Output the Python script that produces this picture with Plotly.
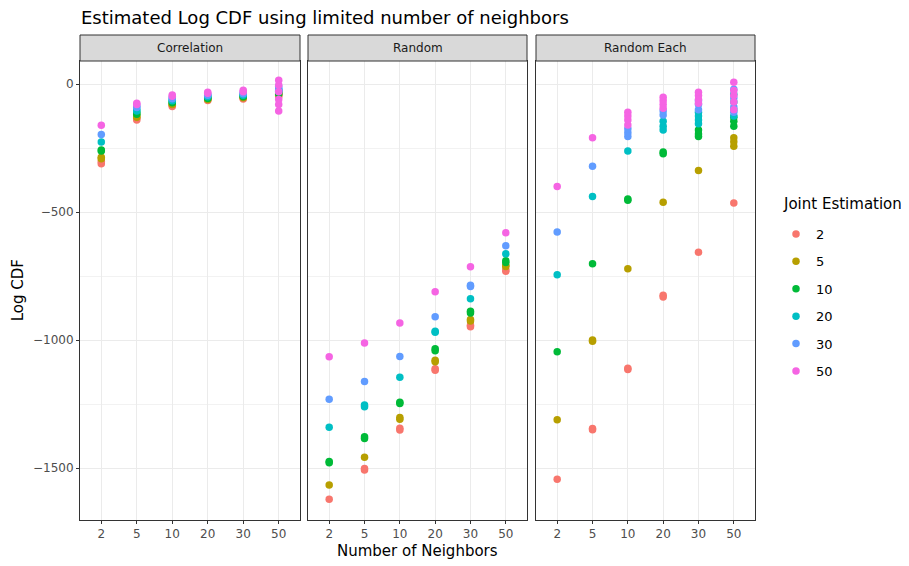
import plotly.graph_objects as go

# the page body adds an 8px margin, so the figure is drawn 8px smaller
# and every pixel position below is given in window coordinates
W, H = 909, 566
OFF = 8

NEIGHBORS = ["2", "5", "10", "20", "30", "50"]
JOINT = ["2", "5", "10", "20", "30", "50"]
COLORS = ["#F8766D", "#B79F00", "#00BA38", "#00BFC4", "#619CFF", "#F564E3"]
PANELS = ["Correlation", "Random", "Random Each"]

# estimated log CDF, replicate runs for each neighbor count (2, 5, 10, 20, 30, 50)
CORRELATION = {
    "2": [[-311, -303], [-140, -135], [-88, -83], [-64, -60], [-58, -54], [-50, -44]],
    "5": [[-292, -286], [-130, -125], [-80, -78], [-60, -57], [-54, -51], [-40, -35]],
    "10": [[-262, -258], [-118, -112], [-73, -70], [-56, -53], [-50, -47], [-38, -30]],
    "20": [[-226], [-105, -100], [-65, -62], [-50, -47], [-44, -41], [-28, -22]],
    "30": [[-197], [-92, -87], [-57, -53], [-44, -41], [-38, -34], [-10, -18, -25]],
    "50": [[-161], [-80, -75], [-48, -43], [-36, -32], [-30, -24], [15, -5, -30, -60, -80, -105]],
}
RANDOM = {
    "2": [[-1622], [-1508, -1502], [-1351, -1345], [-1118, -1112], [-948, -942], [-731, -725]],
    "5": [[-1566], [-1458], [-1309, -1303], [-1085, -1079], [-926, -920], [-713, -708]],
    "10": [[-1479, -1474], [-1385, -1378], [-1248, -1243], [-1042, -1034], [-894, -888], [-697, -690]],
    "20": [[-1341], [-1261, -1254], [-1145], [-970, -966], [-839], [-663]],
    "30": [[-1231], [-1162], [-1064], [-909], [-791, -786], [-632]],
    "50": [[-1065], [-1012], [-933], [-811], [-714], [-581]],
}
RANDOM_EACH = {
    "2": [[-1544], [-1350, -1346], [-1115, -1110], [-832, -825], [-657], [-465]],
    "5": [[-1311], [-1005, -1000], [-722], [-462], [-338], [-243, -225, -210]],
    "10": [[-1046], [-702], [-454, -449], [-272, -265], [-205, -195, -180], [-165, -145, -130]],
    "20": [[-745], [-439], [-262], [-180, -165, -145], [-155, -140, -125, -110], [-125, -100, -70, -40]],
    "30": [[-578], [-321], [-205, -190, -175], [-121, -105], [-100, -80, -65], [-110, -90, -55, -20]],
    "50": [[-400], [-210], [-160, -140, -125, -110], [-95, -80, -65, -52], [-75, -60, -45, -32], [-100, -70, -45, -25, 7]],
}
PANEL_DATA = [CORRELATION, RANDOM, RANDOM_EACH]

Y_RANGE = [-1701, 90]
PANEL_PX = [(80, 300), (308, 527), (536, 755)]
TOP_PX, BOTTOM_PX, STRIP_TOP_PX = 61, 519.5, 35

FONT = "DejaVu Sans, Liberation Sans, Arial"
FW, FH = W - OFF, H - OFF


def px_x(p):
    return (p - OFF) / FW


def px_y(p):
    return 1 - (p - OFF) / FH


fig = go.Figure()

for i, data in enumerate(PANEL_DATA):
    ax = "" if i == 0 else str(i + 1)
    for j, joint in enumerate(JOINT):
        xs, ys = [], []
        for k, reps in enumerate(data[joint]):
            for v in reps:
                xs.append(NEIGHBORS[k])
                ys.append(v)
        fig.add_trace(
            go.Scatter(
                x=xs,
                y=ys,
                mode="markers",
                marker=dict(color=COLORS[j], size=7.5),
                name=joint,
                legendgroup=joint,
                showlegend=(i == 0),
                xaxis="x" + ax,
                yaxis="y" + ax,
                hovertemplate="%{x}: %{y}<extra>" + joint + "</extra>",
            )
        )

shapes = []
annotations = []
axis_common = dict(
    showline=True,
    mirror=True,
    linecolor="#333333",
    linewidth=1,
    gridcolor="#EBEBEB",
    gridwidth=1,
    zeroline=False,
    ticks="outside",
    ticklen=3,
    tickcolor="#333333",
    tickfont=dict(family=FONT, size=12, color="#4D4D4D"),
)

layout_axes = {}
for i, (x0, x1) in enumerate(PANEL_PX):
    suffix = "" if i == 0 else str(i + 1)
    layout_axes["xaxis" + suffix] = dict(
        axis_common,
        domain=[px_x(x0), px_x(x1)],
        type="category",
        categoryorder="array",
        categoryarray=NEIGHBORS,
        range=[-0.6, 5.6],
        anchor="y" + suffix,
    )
    layout_axes["yaxis" + suffix] = dict(
        axis_common,
        domain=[px_y(BOTTOM_PX), px_y(TOP_PX)],
        range=Y_RANGE,
        tickvals=[0, -500, -1000, -1500],
        showticklabels=(i == 0),
        ticks="outside" if i == 0 else "",
        minor=dict(dtick=250, tick0=0, showgrid=True, gridcolor="#F2F2F2", gridwidth=0.6),
        anchor="x" + suffix,
    )
    shapes.append(
        dict(
            type="rect", xref="paper", yref="paper",
            x0=px_x(x0), x1=px_x(x1), y0=px_y(TOP_PX), y1=px_y(STRIP_TOP_PX),
            fillcolor="#D9D9D9", line=dict(color="#333333", width=1),
        )
    )
    annotations.append(
        dict(
            text=PANELS[i], xref="paper", yref="paper",
            x=px_x((x0 + x1) / 2), y=px_y((TOP_PX + STRIP_TOP_PX) / 2),
            showarrow=False, xanchor="center", yanchor="middle",
            font=dict(family=FONT, size=12, color="#1A1A1A"),
        )
    )

annotations.append(
    dict(
        text="Number of Neighbors", xref="paper", yref="paper",
        x=px_x((PANEL_PX[0][0] + PANEL_PX[2][1]) / 2), y=px_y(551),
        showarrow=False, xanchor="center", yanchor="middle",
        font=dict(family=FONT, size=15, color="black"),
    )
)
annotations.append(
    dict(
        text="Log CDF", xref="paper", yref="paper",
        x=px_x(18), y=px_y((TOP_PX + BOTTOM_PX) / 2), textangle=-90,
        showarrow=False, xanchor="center", yanchor="middle",
        font=dict(family=FONT, size=15, color="black"),
    )
)
annotations.append(
    dict(
        text="Joint Estimation", xref="paper", yref="paper",
        x=px_x(781), y=px_y(204),
        showarrow=False, xanchor="left", yanchor="middle",
        font=dict(family=FONT, size=15, color="black"),
    )
)

fig.update_layout(
    width=FW,
    height=FH,
    margin=dict(l=0, r=0, t=0, b=0),
    paper_bgcolor="white",
    plot_bgcolor="white",
    title=dict(
        text="Estimated Log CDF using limited number of neighbors",
        x=px_x(81), xanchor="left", y=px_y(18), yanchor="middle",
        font=dict(family=FONT, size=18, color="black"),
    ),
    legend=dict(
        font=dict(family=FONT, size=13, color="black"),
        x=px_x(776), xanchor="left", y=px_y(219), yanchor="top",
        tracegroupgap=7.5,
        bgcolor="rgba(0,0,0,0)",
    ),
    shapes=shapes,
    annotations=annotations,
    **layout_axes,
)

fig.write_html("out.html")
